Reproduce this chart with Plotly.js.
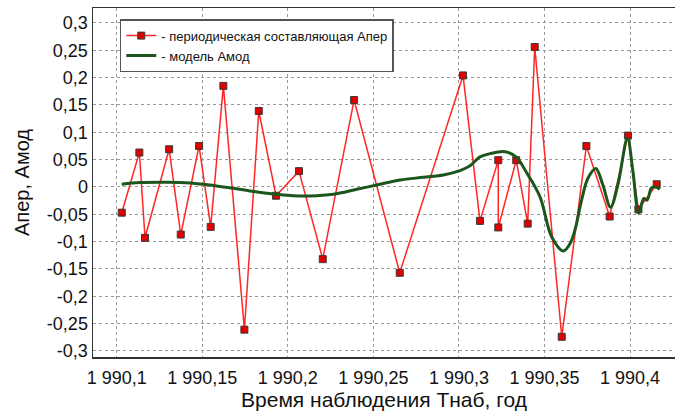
<!DOCTYPE html>
<html>
<head>
<meta charset="utf-8">
<script src="https://cdn.plot.ly/plotly-3.0.1.min.js"></script>
<style>html,body{margin:0;padding:0;background:#fff;}#chart{width:675px;height:412px;}</style>
</head>
<body>
<div id="chart"></div>
<script>
// Periodic component (red, markers)
const tPer = [1990.1029, 1990.1132, 1990.1165, 1990.1306, 1990.1374, 1990.1481, 1990.1549, 1990.1623, 1990.1746, 1990.1830, 1990.1931, 1990.2065, 1990.2204, 1990.2387, 1990.2654, 1990.3024, 1990.3123, 1990.3230, 1990.3230, 1990.3335, 1990.3402, 1990.3443, 1990.3601, 1990.3745, 1990.3881, 1990.3988, 1990.4049, 1990.4156];
const aPer = [-0.047, 0.063, -0.093, 0.069, -0.087, 0.075, -0.073, 0.185, -0.261, 0.139, -0.016, 0.029, -0.132, 0.159, -0.157, 0.204, -0.062, 0.049, -0.074, 0.049, -0.067, 0.256, -0.274, 0.075, -0.054, 0.094, -0.041, 0.005];

// Model (green line)
const tMod = [1990.1029, 1990.1136, 1990.1292, 1990.1370, 1990.1487, 1990.1584, 1990.1681, 1990.1779, 1990.1877, 1990.1935, 1990.2032, 1990.2130, 1990.2266, 1990.2403, 1990.2520, 1990.2656, 1990.2792, 1990.2909, 1990.2987, 1990.3065, 1990.3123, 1990.3182, 1990.3269, 1990.3334, 1990.3396, 1990.3474, 1990.3542, 1990.3610, 1990.3649, 1990.3678, 1990.3717, 1990.3754, 1990.3800, 1990.3841, 1990.3886, 1990.3929, 1990.3985, 1990.4016, 1990.4051, 1990.4081, 1990.4100, 1990.4125, 1990.4145, 1990.4174];
const aMod = [0.005, 0.008, 0.0086, 0.008, 0.0055, 0.002, -0.0024, -0.0073, -0.0115, -0.0134, -0.0159, -0.0165, -0.0134, -0.0042, 0.0037, 0.0128, 0.0177, 0.022, 0.028, 0.039, 0.055, 0.061, 0.0646, 0.055, 0.026, -0.018, -0.091, -0.117, -0.104, -0.079, -0.024, 0.016, 0.034, 0.004, -0.037, 0.004, 0.089, 0.031, -0.048, -0.021, -0.024, -0.002, 0.0005, -0.004];

// Tick labels
const xTickVals = [1990.1, 1990.15, 1990.2, 1990.25, 1990.3, 1990.35, 1990.4];
const xTickText = ['1 990,1', '1 990,15', '1 990,2', '1 990,25', '1 990,3', '1 990,35', '1 990,4'];
const yTickVals = [0.3, 0.25, 0.2, 0.15, 0.1, 0.05, 0, -0.05, -0.1, -0.15, -0.2, -0.25, -0.3];
const yTickText = ['0,3', '0,25', '0,2', '0,15', '0,1', '0,05', '0', '-0,05', '-0,1', '-0,15', '-0,2', '-0,25', '-0,3'];

const seriesNames = ['- периодическая составляющая Апер', '- модель Амод'];

const FONT = '"Liberation Sans", Arial, sans-serif';

const traces = [
  {
    x: tPer, y: aPer, name: seriesNames[0], type: 'scatter', mode: 'lines+markers',
    line: {color: '#ff2626', width: 1.5},
    marker: {symbol: 'square', size: 7, color: '#e00000', line: {color: '#3a3a3a', width: 1}}
  },
  {
    x: tMod, y: aMod, name: seriesNames[1], type: 'scatter', mode: 'lines',
    line: {color: '#1b561b', width: 3, shape: 'spline', smoothing: 1}
  }
];

const layout = {
  width: 675, height: 412,
  margin: {l: 93, r: 0, t: 8, b: 55},
  paper_bgcolor: '#ffffff', plot_bgcolor: '#ffffff',
  font: {family: FONT, color: '#111', size: 18},
  showlegend: true,
  legend: {
    x: 0.046, y: 0.968, xanchor: 'left', yanchor: 'top',
    bgcolor: '#ffffff', bordercolor: '#555', borderwidth: 1.5,
    font: {family: FONT, size: 13, color: '#111'},
    tracegroupgap: 0, itemwidth: 30
  },
  xaxis: {
    range: [1990.0861, 1990.4263],
    tickvals: xTickVals, ticktext: xTickText,
    showgrid: true, gridcolor: '#9a9a9a', griddash: 'dot', gridwidth: 1,
    zeroline: false, showline: true, linecolor: '#333', linewidth: 1.5, mirror: true,
    ticks: 'outside', ticklen: 4, tickcolor: 'rgba(0,0,0,0)',
    tickfont: {family: FONT, size: 18, color: '#111'},
    title: {text: 'Время наблюдения Тнаб, год', font: {family: FONT, size: 21, color: '#111'}, standoff: 3}
  },
  yaxis: {
    range: [-0.311, 0.3274],
    tickvals: yTickVals, ticktext: yTickText,
    showgrid: true, gridcolor: '#9a9a9a', griddash: 'dot', gridwidth: 1,
    zeroline: false, showline: true, linecolor: '#333', linewidth: 1.5, mirror: false,
    ticks: '', tickfont: {family: FONT, size: 18, color: '#111'},
    title: {text: 'Апер, Амод', font: {family: FONT, size: 20, color: '#111'}, standoff: 12}
  }
};

Plotly.newPlot('chart', traces, layout, {displayModeBar: false, staticPlot: true});
</script>
</body>
</html>
